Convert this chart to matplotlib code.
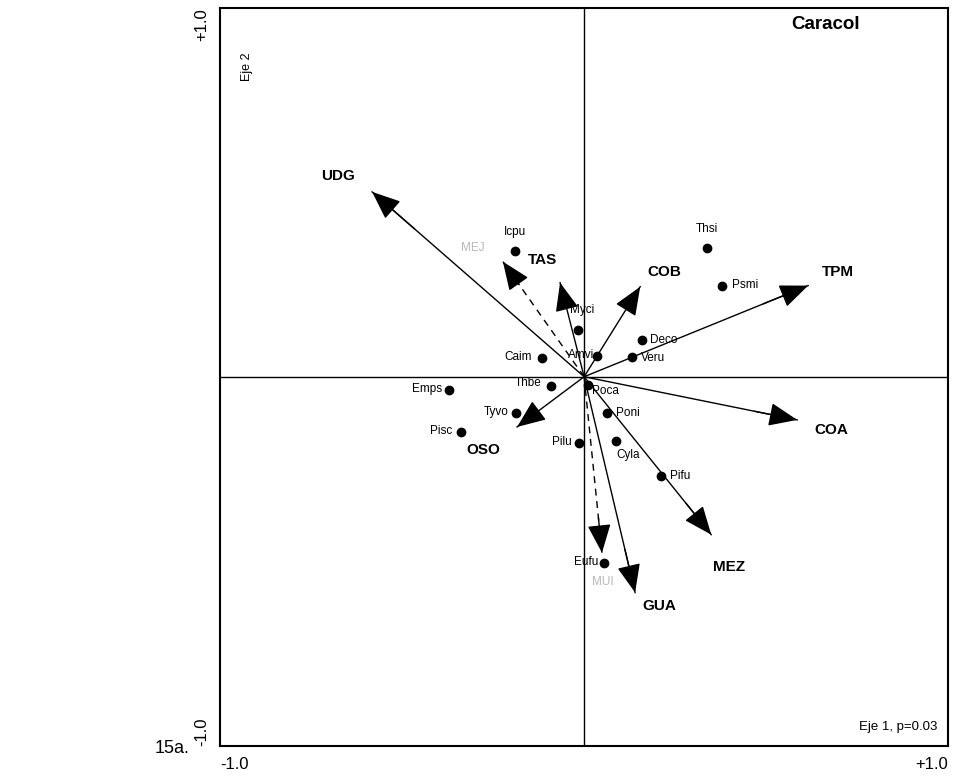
import matplotlib.pyplot as plt

plt.rcParams['font.family'] = ['Liberation Sans', 'DejaVu Sans']

# environmental vectors (biplot arrows)
env_names = ['UDG', 'TAS', 'COB', 'TPM', 'COA', 'MEZ', 'GUA', 'OSO']
env_x = [-0.582, -0.066, 0.154, 0.615, 0.585, 0.349, 0.140, -0.184]
env_y = [0.501, 0.255, 0.244, 0.247, -0.117, -0.428, -0.585, -0.136]
env_lab_x = [-0.676, -0.113, 0.220, 0.698, 0.679, 0.398, 0.206, -0.277]
env_lab_y = [0.545, 0.317, 0.285, 0.285, -0.144, -0.515, -0.621, -0.198]

# supplementary (dashed) vectors
sup_names = ['MEJ', 'MUI']
sup_x = [-0.223, 0.049]
sup_y = [0.312, -0.477]
sup_lab_x = [-0.305, 0.052]
sup_lab_y = [0.350, -0.556]

# species scores
species = ['Icpu', 'Thsi', 'Psmi', 'Myci', 'Deco', 'Amvi', 'Caim', 'Veru', 'Thbe',
           'Emps', 'Poca', 'Poni', 'Tyvo', 'Pisc', 'Pilu', 'Cyla', 'Pifu', 'Eufu']
sp_x = [-0.190, 0.338, 0.379, -0.016, 0.159, 0.036, -0.115, 0.132, -0.091,
        -0.371, 0.011, 0.063, -0.187, -0.338, -0.014, 0.088, 0.212, 0.055]
sp_y = [0.341, 0.350, 0.247, 0.127, 0.100, 0.057, 0.051, 0.054, -0.024,
        -0.035, -0.022, -0.098, -0.098, -0.149, -0.179, -0.173, -0.268, -0.504]

tick_vals = [-1.0, 1.0]
tick_labels = ['-1.0', '+1.0']

# label placement for species (offset in pixels, alignment)
sp_place = {
    'Icpu': (0, 19, 'center'), 'Thsi': (0, 19, 'center'), 'Psmi': (10, 1, 'left'),
    'Myci': (4, 20, 'center'), 'Deco': (8, 0, 'left'), 'Amvi': (-3, 1, 'right'),
    'Caim': (-10, 1, 'right'), 'Veru': (9, -1, 'left'), 'Thbe': (-9, 3, 'right'),
    'Emps': (-7, 1, 'right'), 'Poca': (4, -6, 'left'), 'Poni': (9, 0, 'left'),
    'Tyvo': (-7, 1, 'right'), 'Pisc': (-9, 1, 'right'), 'Pilu': (-7, 1, 'right'),
    'Cyla': (0, -14, 'left'), 'Pifu': (9, 0, 'left'), 'Eufu': (-6, 1, 'right'),
}

fig = plt.figure(figsize=(9.56, 7.8), dpi=100)
ax = fig.add_axes([0.230, 0.044, 0.762, 0.946])
ax.set_xlim(-1, 1)
ax.set_ylim(-1, 1)

ax.axhline(0, color='black', lw=1)
ax.axvline(0, color='black', lw=1)

head = dict(arrowstyle='-|>,head_length=0.85,head_width=0.35', color='black',
            lw=1, mutation_scale=21, shrinkA=0, shrinkB=0)

for name, x, y, lx, ly in zip(env_names, env_x, env_y, env_lab_x, env_lab_y):
    ax.plot([0, x], [0, y], color='black', lw=1)
    ax.annotate('', xy=(x, y), xytext=(0.8 * x, 0.8 * y), arrowprops=head)
    ax.text(lx, ly, name, fontsize=11, fontweight='bold', ha='center', va='center')

for name, x, y, lx, ly in zip(sup_names, sup_x, sup_y, sup_lab_x, sup_lab_y):
    ax.plot([0, x], [0, y], color='black', lw=1, ls=(0, (5, 4)))
    ax.annotate('', xy=(x, y), xytext=(0.8 * x, 0.8 * y), arrowprops=head)
    ax.text(lx, ly, name, fontsize=8.5, color='#b8b8b8', ha='center', va='center')

ax.plot(sp_x, sp_y, 'o', color='black', ms=6, zorder=5)
for name, x, y in zip(species, sp_x, sp_y):
    dx, dy, ha = sp_place[name]
    ax.annotate(name, xy=(x, y), xytext=(dx, dy), textcoords='offset pixels',
                fontsize=8.5, ha=ha, va='center')

ax.set_xticks(tick_vals)
ax.set_xticklabels(tick_labels, fontsize=12)
ax.set_yticks(tick_vals)
ax.set_yticklabels(tick_labels, fontsize=12, rotation=90)
ax.tick_params(length=0, pad=8)
xl = ax.get_xticklabels()
xl[0].set_ha('left')
xl[1].set_ha('right')
yl = ax.get_yticklabels()
yl[0].set_va('bottom')
yl[1].set_va('top')

for sp in ax.spines.values():
    sp.set_linewidth(1.5)

ax.text(0.037, 0.92, 'Eje 2', transform=ax.transAxes, rotation=90,
        fontsize=9, ha='center', va='center')
ax.text(0.878, 0.978, 'Caracol', transform=ax.transAxes, fontsize=13.5,
        fontweight='bold', ha='right', va='center')
ax.text(0.985, 0.025, 'Eje 1, p=0.03', transform=ax.transAxes, fontsize=9.5,
        ha='right', va='center')
fig.text(0.162, 0.04, '15a.', fontsize=13, ha='left', va='center')

fig.savefig('out.png', dpi=100)
